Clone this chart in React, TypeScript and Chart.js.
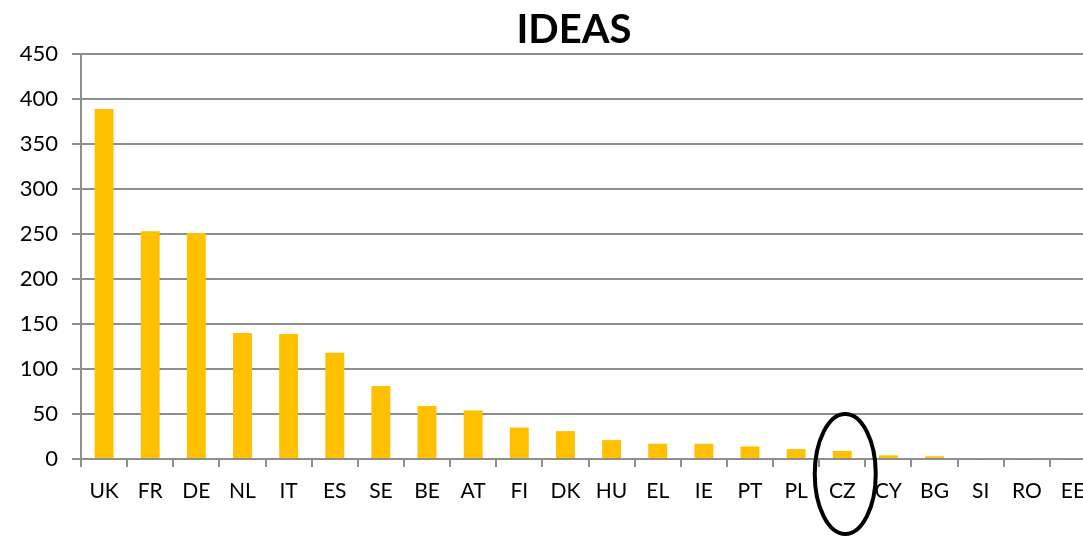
import React, { useEffect, useRef } from "react";
import { Chart, registerables } from "chart.js";

Chart.register(...registerables);

const categories = ["UK", "FR", "DE", "NL", "IT", "ES", "SE", "BE", "AT", "FI", "DK", "HU", "EL", "IE", "PT", "PL", "CZ", "CY", "BG", "SI", "RO", "EE"];
const ideasValues = [389, 253, 251, 140, 139, 118, 81, 59, 54, 35, 31, 21, 17, 17, 14, 11, 9, 4, 3, 1, 1, 1];
const yTicks = { min: 0, max: 450, step: 50 };
const highlighted = "CZ";
const chartTitle = "IDEAS";

const GRID = "#8e8e8e";
const FONT = "Lato";

const titlePlugin = {
  id: "centeredTitle",
  afterDraw(chart: any) {
    const ctx = chart.ctx;
    ctx.save();
    ctx.font = `bold 40px ${FONT}`;
    ctx.fillStyle = "#000";
    ctx.textAlign = "center";
    ctx.textBaseline = "alphabetic";
    ctx.fillText(chartTitle, chart.width / 2, 42.5);
    ctx.restore();
  },
};

const ellipsePlugin = {
  id: "highlightEllipse",
  afterDatasetsDraw(chart: any) {
    const xs = chart.scales.x;
    const idx = categories.indexOf(highlighted);
    if (idx < 0) return;
    const cx = xs.getPixelForValue(idx) + 3;
    const cy = chart.chartArea.bottom + 15;
    const ctx = chart.ctx;
    ctx.save();
    ctx.beginPath();
    ctx.ellipse(cx, cy, 30.5, 60, 0, 0, Math.PI * 2);
    ctx.lineWidth = 4;
    ctx.strokeStyle = "#000";
    ctx.stroke();
    ctx.restore();
  },
};

export default function App() {
  const ref = useRef<HTMLCanvasElement | null>(null);
  useEffect(() => {
    if (!ref.current) return;
    const chart = new Chart(ref.current, {
      type: "bar",
      data: {
        labels: categories,
        datasets: [
          {
            data: ideasValues,
            backgroundColor: "#FFC000",
            barPercentage: 0.41,
            categoryPercentage: 1,
          },
        ],
      },
      options: {
        responsive: false,
        animation: false,
        devicePixelRatio: 1,
        layout: { padding: { left: 0, right: 52, top: 54, bottom: 0 } },
        plugins: {
          legend: { display: false },
          tooltip: { enabled: false },
          title: { display: false },
        },
        scales: {
          x: {
            grid: {
              display: true,
              drawOnChartArea: false,
              drawTicks: true,
              tickLength: 8,
              color: GRID,
              lineWidth: 2,
              offset: true,
            },
            border: { display: true, color: GRID, width: 2 },
            ticks: {
              color: "#000",
              font: { family: FONT, size: 21 },
              padding: 12,
              maxRotation: 0,
              autoSkip: false,
            },
            afterFit: (s: any) => {
              s.height = 77;
            },
          },
          y: {
            min: yTicks.min,
            max: yTicks.max,
            ticks: {
              stepSize: yTicks.step,
              color: "#000",
              font: { family: FONT, size: 22 },
              padding: 14,
            },
            grid: { color: GRID, lineWidth: 2, tickLength: 9 },
            border: { display: true, color: GRID, width: 2 },
            afterFit: (s: any) => {
              s.width = 81;
            },
          },
        },
      },
      plugins: [ellipsePlugin, titlePlugin],
    } as any);
    return () => chart.destroy();
  }, []);

  return (
    <div
      style={{
        position: "fixed",
        left: 0,
        top: 0,
        width: 1083,
        height: 536,
        overflow: "hidden",
        background: "#fff",
      }}
    >
      <canvas ref={ref} width={1148} height={536} style={{ display: "block" }} />
    </div>
  );
}
